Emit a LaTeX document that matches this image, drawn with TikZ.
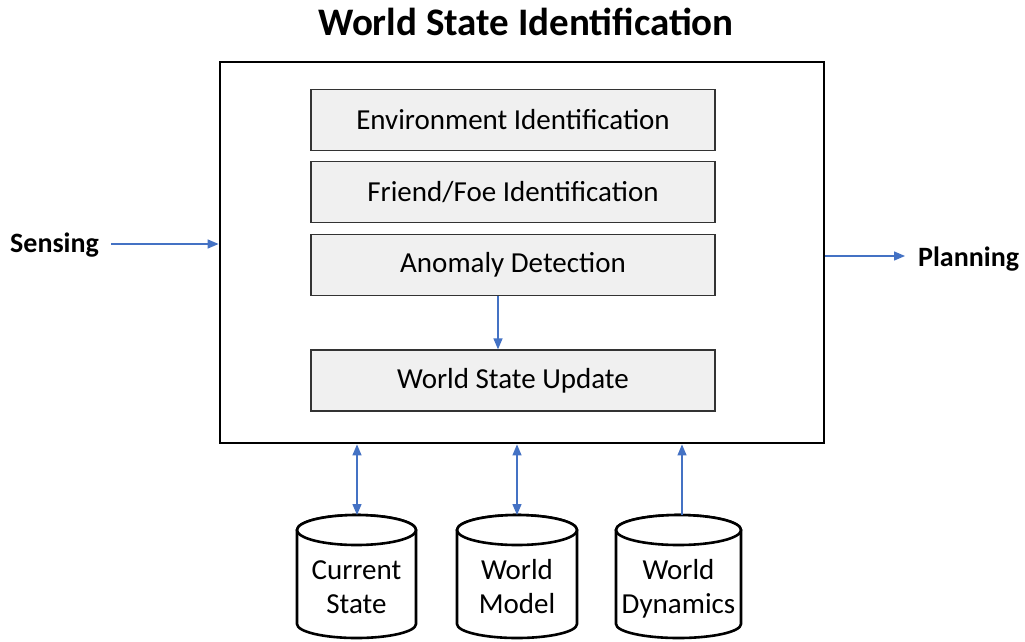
\documentclass[tikz,border=0pt]{standalone}
\usepackage{fontspec}
\setmainfont{Carlito}
\usetikzlibrary{arrows.meta}
\definecolor{arrblue}{HTML}{4472C4}
\definecolor{boxfill}{HTML}{F0F0F0}
\tikzset{
  inner/.style={draw=black!80, line width=1.3pt, fill=boxfill, minimum width=404pt, minimum height=61pt, inner sep=0pt, font=\fontsize{29}{34}\selectfont},
  conn/.style={draw=arrblue, line width=1.3pt, -{Triangle[length=11pt,width=9pt]}},
  bconn/.style={draw=arrblue, line width=1.3pt, {Triangle[length=11pt,width=9pt]}-{Triangle[length=11pt,width=9pt]}},
  cyl/.style={draw=black, line width=2.6pt, fill=white},
  lbl/.style={font=\fontsize{28}{32}\selectfont\bfseries, inner sep=0pt},
  cyltext/.style={font=\fontsize{29}{34}\selectfont, align=center, inner sep=0pt, anchor=base}
}
\begin{document}
\begin{tikzpicture}[x=1pt,y=-1pt]
\useasboundingbox (0,0) rectangle (1025,641);
\node[font=\fontsize{39}{44}\selectfont\bfseries, inner sep=0pt] (title) at (526,22) {World State Identification};
\node[draw=black, line width=2.8pt, minimum width=604pt, minimum height=381pt, inner sep=0pt] (main) at (522,252.5) {};
\node[inner] (env) at (513,120) {Environment Identification};
\node[inner] (ff) at (513,192) {Friend/Foe Identification};
\node[inner] (anom) at (513,265) {Anomaly Detection};
\node[inner] (wsu) at (513,380.5) {World State Update};
\draw[conn] (anom.south -| 498,0) -- (wsu.north -| 498,0);
\node[lbl, anchor=base west] (sense) at (10,252) {Sensing};
\node[lbl, anchor=base west] (plan) at (918,266) {Planning};
\coordinate (sx) at (111,244);
\draw[conn] (sx) -- (main.west |- sx);
\coordinate (px) at (905,256);
\draw[conn] (main.east |- px) -- (px);
% cylinders
\foreach \cx/\rx/\nm in {356.5/59.5/c1, 517/60/c2, 678.5/62.5/c3}{
  \draw[cyl] (\cx-\rx,530) -- (\cx-\rx,624) arc[start angle=180, end angle=0, x radius=\rx, y radius=14] -- (\cx+\rx,530) arc[start angle=0, end angle=-180, x radius=\rx, y radius=15] -- cycle;
  \draw[cyl] (\cx,530) ellipse[x radius=\rx, y radius=15];
  \coordinate (\nm top) at (\cx,515);
}
\node[cyltext] (cs) at (356.5,613) {Current\\State};
\node[cyltext] (wm) at (517,613) {World\\Model};
\node[cyltext] (wd) at (678.5,613) {World\\Dynamics};
\draw[bconn] (c1top -| 357,0) -- (main.south -| 357,0);
\draw[bconn] (c2top) -- (main.south -| c2top);
\coordinate (c3a) at (682,515);
\draw[conn] (c3a) -- (main.south -| c3a);
\end{tikzpicture}
\end{document}
